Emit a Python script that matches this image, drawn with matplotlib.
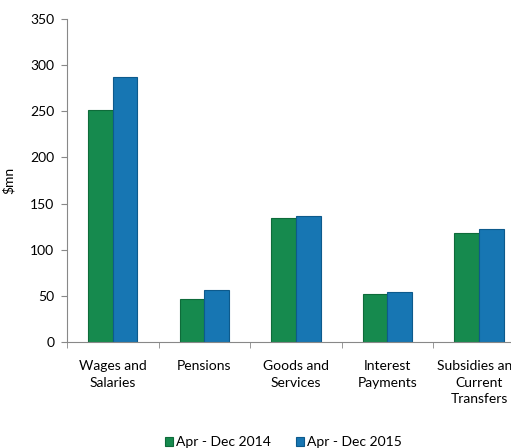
import numpy as np
import matplotlib.pyplot as plt

categories = ["Wages and\nSalaries", "Pensions", "Goods and\nServices", "Interest\nPayments", "Subsidies and\nCurrent\nTransfers"]
vals_2014 = [251, 47, 134, 52, 118]
vals_2015 = [287, 56, 136, 54, 122]
series_names = ["Apr - Dec 2014", "Apr - Dec 2015"]

plt.rcParams['font.family'] = ['Lato', 'DejaVu Sans']

fig = plt.figure(figsize=(5.11, 4.48), dpi=100)
ax = fig.add_axes([0.131, 0.2366, 0.896, 0.721])

x = np.arange(len(categories))
w = 0.27
ax.bar(x - w / 2, vals_2014, w, color='#168a4e', edgecolor='#0e6b3a', linewidth=0.8, label=series_names[0])
ax.bar(x + w / 2, vals_2015, w, color='#1776b3', edgecolor='#0d5a8c', linewidth=0.8, label=series_names[1])

ax.set_xlim(-0.5, len(categories) - 0.5)
ax.set_ylim(0, 350)
ax.set_yticks(range(0, 351, 50))
ax.set_xticks(x)
ax.set_xticklabels(categories, fontsize=10, linespacing=1.45)
ax.set_xticks(np.arange(-0.5, len(categories), 1), minor=True)
ax.tick_params(axis='x', which='major', length=0, pad=13)
ax.tick_params(axis='x', which='minor', length=4, color='#888888')
ax.tick_params(axis='y', labelsize=10, color='#888888', length=4, pad=5)
ax.set_ylabel("$mn", fontsize=10)
ax.yaxis.set_label_coords(-0.113, 0.5)

for s in ['top', 'right']:
    ax.spines[s].set_visible(False)
ax.spines['left'].set_color('#888888')
ax.spines['bottom'].set_color('#888888')

fig.legend(loc='lower center', bbox_to_anchor=(0.555, -0.028), ncol=2, frameon=False,
           fontsize=10, handlelength=0.6, handleheight=0.6, handletextpad=0.2, columnspacing=1.8)

plt.savefig("out.png", dpi=100)
